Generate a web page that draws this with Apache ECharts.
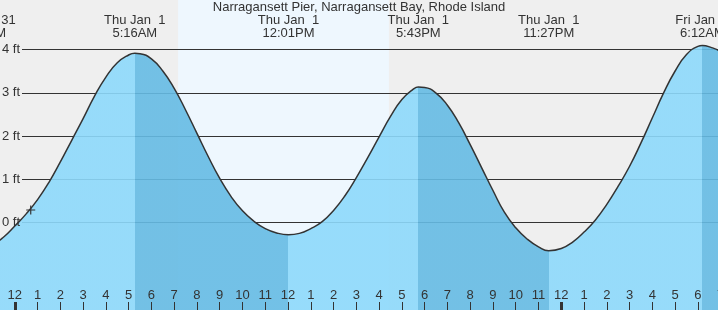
<!DOCTYPE html>
<html>
<head>
<meta charset="utf-8">
<script src="https://cdn.jsdelivr.net/npm/echarts@6/dist/echarts.min.js"></script>
<style>
    html, body { margin: 0; padding: 0; background: #efefef; }
    #main { width: 718px; height: 310px; }
</style>
</head>
<body>
<div id="main"></div>
<script>
// hours counted from Thu Jan 1 00:00, heights in feet
var tideHours = [-2, -1.53, -1, -0.5, 0, 0.5, 1, 1.5, 2, 2.5, 3, 3.5, 4, 4.5, 5, 5.27, 5.5, 6, 6.5, 7, 7.5, 8, 8.5, 9, 9.5, 10, 10.5, 11, 11.5, 12.02,
    12.5, 13, 13.5, 14, 14.5, 15, 15.5, 16, 16.5, 17, 17.5, 17.72, 18, 18.5, 19, 19.5, 20, 20.5, 21, 21.5, 22, 22.5, 23, 23.45,
    24, 24.5, 25, 25.5, 26, 26.5, 27, 27.5, 28, 28.5, 29, 29.5, 30, 30.2, 30.6, 31, 31.5];
var tideFeet = [-0.58, -0.62, -0.52, -0.34, -0.08, 0.2, 0.53, 0.93, 1.4, 1.9, 2.4, 2.92, 3.36, 3.69, 3.87, 3.91, 3.9, 3.78, 3.5, 3.1, 2.6, 2.06, 1.52, 1.02, 0.6, 0.27, 0.03, -0.14, -0.24, -0.28,
    -0.25, -0.14, 0.02, 0.28, 0.62, 1.04, 1.5, 1.98, 2.45, 2.84, 3.08, 3.13, 3.12, 2.99, 2.71, 2.3, 1.8, 1.27, 0.74, 0.24, -0.12, -0.38, -0.56, -0.65,
    -0.6, -0.45, -0.22, 0.06, 0.42, 0.84, 1.3, 1.84, 2.42, 3.0, 3.5, 3.88, 4.07, 4.09, 4.04, 3.95, 3.75];

// high / low tide labels
var extremeHours = [-1.53, 5.27, 12.02, 17.72, 23.45, 30.2];
var extremeHigh = [false, true, false, true, false, true];
var extremeDays = ['Wed Dec 31', 'Thu Jan  1', 'Thu Jan  1', 'Thu Jan  1', 'Thu Jan  1', 'Fri Jan  2'];
var extremeTimes = ['10:28PM', '5:16AM', '12:01PM', '5:43PM', '11:27PM', '6:12AM'];

var dayStarts = [0, 24];
var daylight = [7.17, 16.43]; // sunrise, sunset
var nowPoint = [0.7, 0.29];
var feetTicks = [0, 1, 2, 3, 4];

var FONT = '"Liberation Sans", Arial, sans-serif';
var TEXT = '#333';
var LIGHT = '#8dd9fb';
var DARK = '#65bbe4';

var tideData = tideHours.map(function (h, i) { return [h, tideFeet[i]]; });

// falling tide (high -> low) is shaded darker
var pieces = [{gte: -10, lt: extremeHours[0], color: DARK}];
for (var i = 0; i < extremeHours.length; i++) {
    var end = i + 1 < extremeHours.length ? extremeHours[i + 1] : 40;
    pieces.push({gte: extremeHours[i], lt: end, color: extremeHigh[i] ? DARK : LIGHT});
}

var myChart = echarts.init(document.getElementById('main'));

// x range -2..31 h, 22.77 px per hour, midnight at x = 14.8
var X_MIN = -2, X_MAX = 31;

var option = {
    backgroundColor: '#efefef',
    animation: false,
    title: {
        text: 'Narragansett Pier, Narragansett Bay, Rhode Island',
        left: 'center',
        top: 0,
        padding: 0,
        textStyle: {fontFamily: FONT, fontSize: 13, fontWeight: 'normal', color: TEXT, lineHeight: 14}
    },
    grid: [
        {left: -30.74, right: -2.67, top: 0, bottom: 0, containLabel: false, outerBoundsMode: 'none'},
        {left: 22, right: 0, top: 49.5, bottom: 87.3, containLabel: false, outerBoundsMode: 'none'}
    ],
    xAxis: [
        {
            gridIndex: 0, type: 'value', min: X_MIN, max: X_MAX, interval: 1, position: 'bottom', z: 3,
            axisLine: {show: false, onZero: false},
            splitLine: {show: false},
            axisTick: {inside: true, length: 8, lineStyle: {color: TEXT, width: 1}},
            axisLabel: {
                inside: true, margin: 8, fontFamily: FONT, fontSize: 13, color: TEXT,
                formatter: function (v) {
                    var h = ((Math.round(v) % 12) + 12) % 12;
                    return h === 0 ? '12' : String(h);
                }
            }
        },
        {
            gridIndex: 0, type: 'value', min: X_MIN, max: X_MAX, position: 'bottom', z: 3,
            axisLine: {show: false, onZero: false},
            splitLine: {show: false},
            axisLabel: {show: false},
            axisTick: {inside: true, length: 8, customValues: dayStarts, lineStyle: {color: TEXT, width: 3}}
        },
        {
            gridIndex: 0, type: 'value', min: X_MIN, max: X_MAX, position: 'top', z: 3,
            axisLine: {show: false, onZero: false},
            axisTick: {show: false},
            splitLine: {show: false},
            axisLabel: {
                inside: true, margin: 14, customValues: extremeHours,
                fontFamily: FONT, fontSize: 13, lineHeight: 13, color: TEXT, align: 'center',
                formatter: function (v) {
                    var k = 0;
                    for (var j = 1; j < extremeHours.length; j++) {
                        if (Math.abs(extremeHours[j] - v) < Math.abs(extremeHours[k] - v)) k = j;
                    }
                    return extremeDays[k] + '\n' + extremeTimes[k];
                }
            }
        },
        {gridIndex: 1, type: 'value', min: 0, max: 1, show: false, axisLine: {onZero: false}}
    ],
    yAxis: [
        {gridIndex: 0, type: 'value', min: -2.02, max: 5.14, show: false},
        {
            gridIndex: 1, type: 'value', min: 0, max: 4, interval: 1, z: 1.5, position: 'left',
            axisLine: {show: false, onZero: false},
            axisTick: {show: false},
            axisLabel: {show: false},
            splitLine: {show: true, lineStyle: {color: TEXT, width: 1}}
        },
        {
            gridIndex: 1, type: 'value', min: 0, max: 4, interval: 1, z: 3, position: 'left',
            axisLine: {show: false, onZero: false},
            axisTick: {show: false},
            splitLine: {show: false},
            axisLabel: {
                margin: 2, fontFamily: FONT, fontSize: 13, color: TEXT,
                customValues: feetTicks,
                formatter: '{value} ft'
            }
        }
    ],
    visualMap: {
        type: 'piecewise', show: false, dimension: 0, seriesIndex: 0,
        pieces: pieces
    },
    series: [
        {
            type: 'line', xAxisIndex: 0, yAxisIndex: 0, z: 2,
            data: tideData,
            smooth: true,
            symbol: 'none',
            lineStyle: {color: TEXT, width: 1.5},
            areaStyle: {opacity: 0.9, origin: 'start'}
        },
        {
            type: 'line', xAxisIndex: 0, yAxisIndex: 0, z: 1,
            data: [],
            markArea: {
                silent: true, z: 1,
                itemStyle: {color: '#eef7fe', opacity: 1},
                data: [[{xAxis: daylight[0]}, {xAxis: daylight[1]}]]
            }
        },
        {
            type: 'scatter', xAxisIndex: 0, yAxisIndex: 0, z: 4,
            data: [nowPoint],
            symbol: 'path://M0,5L10,5M5,0L5,10',
            symbolSize: 9,
            itemStyle: {color: 'transparent', borderColor: TEXT, borderWidth: 1.2, opacity: 1}
        }
    ]
};

myChart.setOption(option);
</script>
</body>
</html>
